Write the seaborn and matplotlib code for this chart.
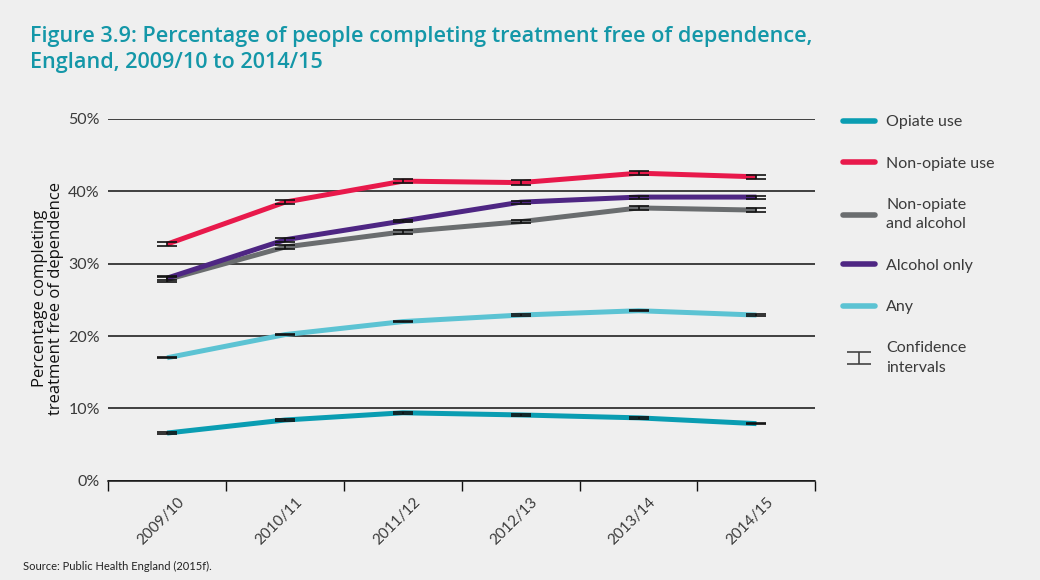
import numpy as np
import pandas as pd
import seaborn as sns
import matplotlib.pyplot as plt
import matplotlib.transforms as mtransforms
from matplotlib.lines import Line2D
from matplotlib.path import Path

years = ["2009/10", "2010/11", "2011/12", "2012/13", "2013/14", "2014/15"]
series_names = ["Opiate use", "Non-opiate use", "Non-opiate\nand alcohol", "Alcohol only", "Any"]

opiate = [6.6, 8.4, 9.4, 9.1, 8.7, 7.9]
non_opiate = [32.7, 38.5, 41.4, 41.2, 42.5, 42.0]
non_opiate_alcohol = [27.8, 32.3, 34.4, 35.8, 37.7, 37.4]
alcohol_only = [28.0, 33.3, 35.9, 38.5, 39.2, 39.2]
any_substance = [17.0, 20.2, 22.0, 22.9, 23.5, 22.9]

# half-widths of the 95% confidence intervals (percentage points)
ci_opiate = [0.1, 0.1, 0.1, 0.1, 0.1, 0.1]
ci_non_opiate = [0.3, 0.3, 0.25, 0.3, 0.3, 0.3]
ci_non_opiate_alcohol = [0.3, 0.3, 0.25, 0.25, 0.3, 0.3]
ci_alcohol_only = [0.25, 0.25, 0.2, 0.2, 0.2, 0.2]
ci_any = [0.1, 0.1, 0.1, 0.1, 0.1, 0.1]

y_ticks = [0, 10, 20, 30, 40, 50]

palette = ["#0a9db2", "#e8194b", "#6a6d6f", "#4e2683", "#5cc3d3"]

values = [opiate, non_opiate, non_opiate_alcohol, alcohol_only, any_substance]
cis = [ci_opiate, ci_non_opiate, ci_non_opiate_alcohol, ci_alcohol_only, ci_any]

df = pd.DataFrame({
    "year": np.tile(years, len(series_names)),
    "group": np.repeat(series_names, len(years)),
    "pct": np.concatenate(values),
    "ci": np.concatenate(cis),
})

sns.set_theme(style="white")
bg = "#efefef"
plt.rcParams["font.family"] = ["Lato", "DejaVu Sans"]
plt.rcParams["text.color"] = "#333333"

fig = plt.figure(figsize=(10.4, 5.8), dpi=100, facecolor=bg)
ax = fig.add_axes([0.104, 0.171, 0.68, 0.624])
ax.set_facecolor(bg)

draw_order = ["Any", "Non-opiate\nand alcohol", "Alcohol only", "Non-opiate use", "Opiate use"]
order_df = pd.concat([df[df.group == g] for g in draw_order])
sns.lineplot(data=order_df, x="year", y="pct", hue="group", hue_order=series_names,
             palette=palette, linewidth=3.6, legend=False, ax=ax, sort=False,
             solid_capstyle="butt")

xpos = {y: i for i, y in enumerate(years)}
for g in series_names:
    sub = df[df.group == g]
    ax.errorbar(sub["year"].map(xpos), sub["pct"], yerr=sub["ci"], fmt="none",
                ecolor="#111111", elinewidth=1.2, capsize=7, capthick=1.2, zorder=5)

ax.set_xlim(-0.5, len(years) - 0.5)
ax.set_ylim(0, 50)
ax.set_yticks(y_ticks)
ax.set_yticklabels([f"{v}%" for v in y_ticks], fontsize=11.5, color="#3a3a3a")
ax.tick_params(axis="y", length=0, pad=6)
ax.grid(axis="y", color="#111111", linewidth=1.1)
ax.grid(axis="x", visible=False)
ax.set_axisbelow(True)

# category boundaries carry the tick marks, labels sit under each category
ax.set_xticks(np.arange(-0.5, len(years), 1.0))
ax.set_xticklabels([])
ax.tick_params(axis="x", which="major", length=7, width=1.0, color="#111111", bottom=True, direction="out")
ax.set_xticks(np.arange(len(years)), minor=True)
ax.set_xticklabels(years, minor=True, rotation=45, ha="right", rotation_mode="anchor",
                   fontsize=11, color="#3a3a3a")
ax.tick_params(axis="x", which="minor", length=0, pad=10)
shift = mtransforms.ScaledTranslation(10 / 100, 0, fig.dpi_scale_trans)
for lbl in ax.get_xticklabels(minor=True):
    lbl.set_transform(lbl.get_transform() + shift)

for side in ["top", "right", "left"]:
    ax.spines[side].set_visible(False)
ax.spines["bottom"].set_color("#111111")
ax.spines["bottom"].set_linewidth(1.1)
ax.set_xlabel("")
ax.set_ylabel("")

fig.text(0.046, 0.486, "Percentage completing\ntreatment free of dependence", rotation=90,
         ha="center", va="center", fontsize=12, color="#111111", linespacing=1.0,
         family=["Open Sans", "DejaVu Sans"])

# legend
handles = [Line2D([0], [0], color=c, linewidth=4, solid_capstyle="round") for c in palette]
ibeam = Path([(-1, 0.55), (1, 0.55), (0, 0.55), (0, -0.55), (-1, -0.55), (1, -0.55)],
             [Path.MOVETO, Path.LINETO, Path.MOVETO, Path.LINETO, Path.MOVETO, Path.LINETO])
handles.append(Line2D([0], [0], linestyle="none", marker=ibeam, markersize=17,
                      markeredgewidth=1.2, color="#444444", markerfacecolor="none"))
labels = series_names + ["Confidence\nintervals"]
leg = fig.legend(handles, labels, loc="upper left", bbox_to_anchor=(0.797, 0.826),
                 frameon=False, fontsize=11.5, handlelength=2.0, handletextpad=0.7,
                 labelspacing=1.7)
for t in leg.get_texts():
    t.set_color("#3a3a3a")
    t.set_linespacing(1.5)

fig.text(0.029, 0.955, "Figure 3.9: Percentage of people completing treatment free of dependence,\nEngland, 2009/10 to 2014/15",
         fontsize=15.6, color="#1497a8", fontweight="semibold", va="top", ha="left", linespacing=1.3,
         family=["Open Sans", "DejaVu Sans"])
fig.text(0.022, 0.018, "Source: Public Health England (2015f).", fontsize=8, color="#222222")

fig.savefig("out.png", dpi=100, facecolor=bg)
